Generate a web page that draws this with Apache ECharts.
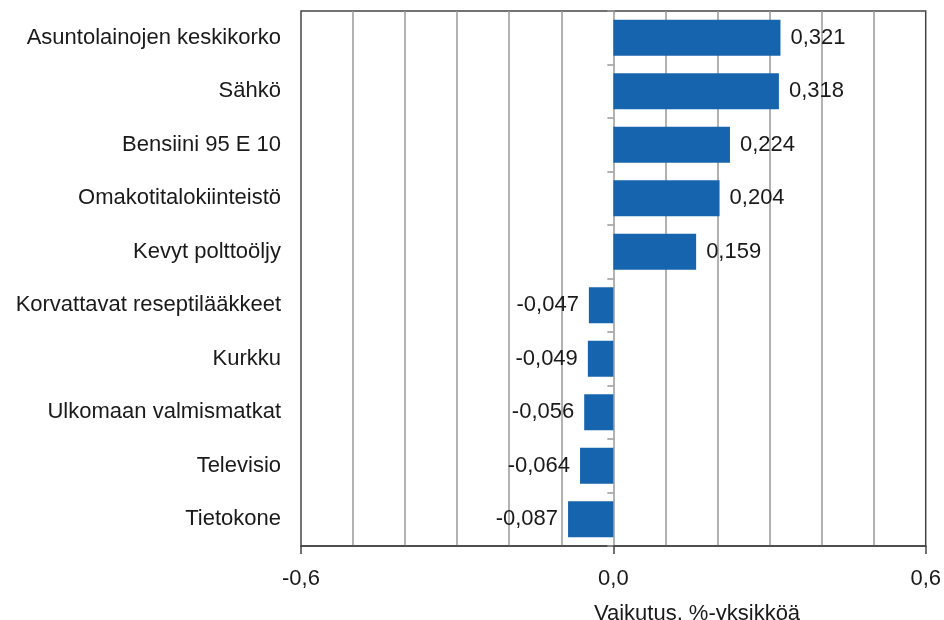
<!DOCTYPE html>
<html><head><meta charset="utf-8">
<script src="https://cdn.jsdelivr.net/npm/echarts@6/dist/echarts.min.js"></script>
<style>html,body{margin:0;padding:0;background:#fff}#c{width:944px;height:620px}</style>
</head><body><div id="c"></div>
<script>
const categories = ["Asuntolainojen keskikorko","Sähkö","Bensiini 95 E 10","Omakotitalokiinteistö","Kevyt polttoöljy","Korvattavat reseptilääkkeet","Kurkku","Ulkomaan valmismatkat","Televisio","Tietokone"];
const values = [0.321,0.318,0.224,0.204,0.159,-0.047,-0.049,-0.056,-0.064,-0.087];
const xTicks = [-0.6, 0.0, 0.6];
const axisTitle = "Vaikutus, %-yksikköä";

const FONT = "Liberation Sans";
const FS = 22;
const fmt = (v, d) => v.toFixed(d).replace('.', ',');
const chart = echarts.init(document.getElementById('c'), null, {renderer:'canvas'});
chart.setOption({
  animation:false,
  textStyle:{fontFamily:FONT},
  title:{text:axisTitle,left:692,top:598,textAlign:'center',
    textStyle:{fontFamily:FONT,fontSize:FS,fontWeight:'normal',color:'#1a1a1a'}},
  grid:{left:301,right:18,top:11,bottom:74,show:true,borderColor:'#444',borderWidth:1.5,containLabel:false},
  xAxis:{type:'value',min:xTicks[0],max:xTicks[2],interval:xTicks[2]-xTicks[1],
    axisLine:{show:true,onZero:false,lineStyle:{color:'#444',width:1.5}},
    axisTick:{show:true,length:8,lineStyle:{color:'#444',width:1.5}},
    axisLabel:{margin:22,fontSize:FS,color:'#1a1a1a',fontFamily:FONT,formatter:v=>fmt(v,1)},
    splitLine:{show:false},
    minorTick:{show:false,splitNumber:6},
    minorSplitLine:{show:true,lineStyle:{color:'#999',width:1.5}}},
  yAxis:[
    {type:'category',data:categories,inverse:true,position:'left',
     axisLine:{show:false,onZero:false},axisTick:{show:false},
     axisLabel:{margin:20,fontSize:FS,color:'#1a1a1a',fontFamily:FONT}},
    {type:'category',data:categories,inverse:true,position:'left',
     axisLine:{show:true,onZero:true,lineStyle:{color:'#999',width:1.5}},
     axisTick:{show:true,length:6,lineStyle:{color:'#999',width:1.5}},
     axisLabel:{show:false}}
  ],
  series:[{type:'bar',yAxisIndex:0,barCategoryGap:'33%',
    data:values.map(v=>({value:v,label:{position:v<0?'left':'right'}})),
    itemStyle:{color:'#1764ae'},
    label:{show:true,fontSize:FS,color:'#1a1a1a',fontFamily:FONT,distance:10,
      formatter:p=>fmt(p.value,3)}
  }]
});
</script></body></html>
